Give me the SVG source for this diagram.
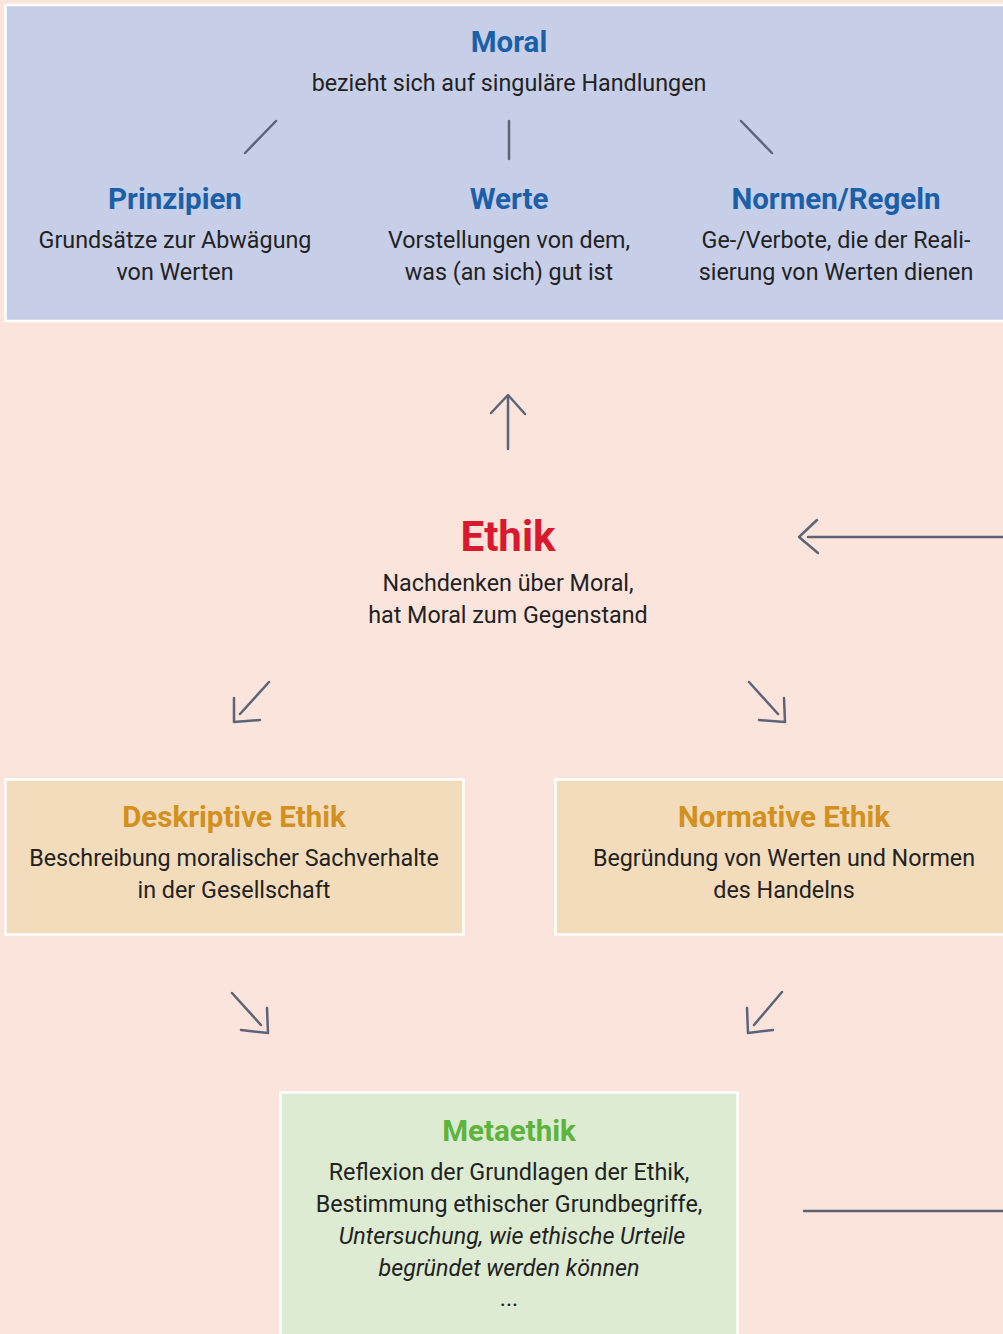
<svg xmlns="http://www.w3.org/2000/svg" width="1003" height="1334" viewBox="0 0 1003 1334">
<style>
.box{stroke:#ffffff;stroke-width:2.5}
.t{font-family:Roboto,"Noto Sans",sans-serif;font-size:23.3px;fill:#222222;text-anchor:middle}
.h{font-family:Roboto,"Noto Sans",sans-serif;font-weight:bold;font-size:29.5px;text-anchor:middle}
.blue{fill:#1a5fa8}
.org{fill:#d4901e}
.grn{fill:#5cb43c}
.c{stroke:#5d6478;stroke-width:2.5;fill:none;stroke-linecap:round;stroke-linejoin:round}
</style>
<rect width="1003" height="1334" fill="#fae4dc"/>
<g id="moral">
<rect class="box" x="5.5" y="5" width="1010" height="316" fill="#c6cee8"/>
<text class="h blue" x="509" y="52">Moral</text>
<text class="t" x="509" y="91">bezieht sich auf singuläre Handlungen</text>
</g>
<g id="prinzipien">
<text class="h blue" x="175" y="209">Prinzipien</text>
<text class="t" x="175" y="248">Grundsätze zur Abwägung</text>
<text class="t" x="175" y="280">von Werten</text>
</g>
<g id="werte">
<text class="h blue" x="509" y="209">Werte</text>
<text class="t" x="509" y="248">Vorstellungen von dem,</text>
<text class="t" x="509" y="280">was (an sich) gut ist</text>
</g>
<g id="normen">
<text class="h blue" x="836" y="209">Normen/Regeln</text>
<text class="t" x="836" y="248">Ge-/Verbote, die der Reali-</text>
<text class="t" x="836" y="280">sierung von Werten dienen</text>
</g>
<g id="ethik">
<text class="h" x="508" y="551" style="font-size:42px;fill:#d8192e">Ethik</text>
<text class="t" x="508" y="591">Nachdenken über Moral,</text>
<text class="t" x="508" y="623">hat Moral zum Gegenstand</text>
</g>
<g id="deskriptiv">
<rect class="box" x="5.5" y="779.5" width="458" height="155" fill="#f2dcbb"/>
<text class="h org" x="234" y="827">Deskriptive Ethik</text>
<text class="t" x="234" y="866">Beschreibung moralischer Sachverhalte</text>
<text class="t" x="234" y="898">in der Gesellschaft</text>
</g>
<g id="normativ">
<rect class="box" x="555.5" y="779.5" width="460" height="155" fill="#f2dcbb"/>
<text class="h org" x="784" y="827">Normative Ethik</text>
<text class="t" x="784" y="866">Begründung von Werten und Normen</text>
<text class="t" x="784" y="898">des Handelns</text>
</g>
<g id="metaethik">
<rect class="box" x="280.5" y="1092.5" width="457" height="260" fill="#ddebd3"/>
<text class="h grn" x="509" y="1141">Metaethik</text>
<text class="t" x="509" y="1180">Reflexion der Grundlagen der Ethik,</text>
<text class="t" x="509" y="1212">Bestimmung ethischer Grundbegriffe,</text>
<text class="t" x="512" y="1244" font-style="italic">Untersuchung, wie ethische Urteile</text>
<text class="t" x="509" y="1276" font-style="italic">begründet werden können</text>
<text class="t" x="509" y="1306">...</text>
</g>
<g id="connectors">
<line class="c" x1="245" y1="153" x2="276" y2="121"/>
<line class="c" x1="509" y1="121" x2="509" y2="159"/>
<line class="c" x1="741" y1="121" x2="772" y2="153"/>
<line class="c" x1="508" y1="449" x2="508" y2="397"/>
<polyline class="c" points="491,413 508,395 525,414"/>
<line class="c" x1="1003" y1="537" x2="808" y2="537"/>
<polyline class="c" points="817,520 799,537 818,553"/>
<line class="c" x1="269" y1="682" x2="240" y2="714"/>
<polyline class="c" points="234,698 234,722 260,720"/>
<line class="c" x1="749" y1="682" x2="778" y2="714"/>
<polyline class="c" points="784,698 785,722 759,720"/>
<line class="c" x1="232" y1="993" x2="261" y2="1025"/>
<polyline class="c" points="267,1008 268,1033 241,1030"/>
<line class="c" x1="782" y1="992" x2="754" y2="1025"/>
<polyline class="c" points="747,1008 748,1033 773,1030"/>
<line class="c" x1="804" y1="1211" x2="1003" y2="1211"/>
</g>
</svg>
